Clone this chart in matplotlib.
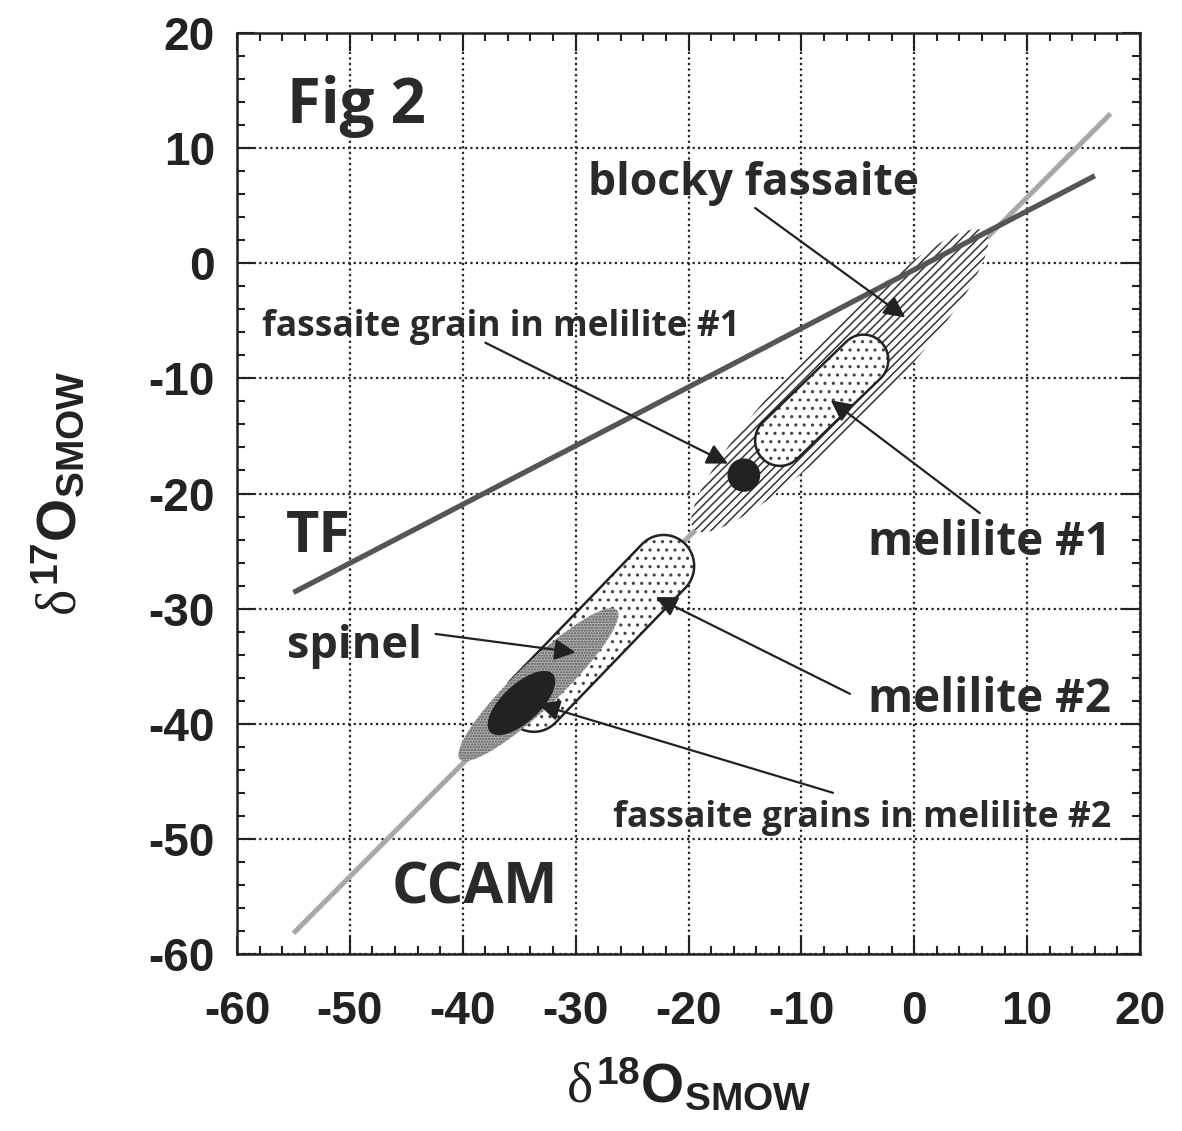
import numpy as np
import matplotlib
matplotlib.use("Agg")
import matplotlib.pyplot as plt
from matplotlib.patches import Ellipse, Polygon, Circle

plt.rcParams['mathtext.fontset'] = 'custom'
plt.rcParams['mathtext.rm'] = 'Liberation Sans:bold'
plt.rcParams['mathtext.bf'] = 'Liberation Sans:bold'
plt.rcParams['mathtext.it'] = 'Liberation Serif'
plt.rcParams['axes.unicode_minus'] = False
plt.rcParams['hatch.linewidth'] = 1.1

# reference lines (d18O, d17O end points)
tf_x = [-55.0, 16.0]
tf_y = [-28.6, 7.6]
ccam_x = [-55.0, 17.4]
ccam_y = [-58.2, 13.0]

# blocky fassaite field: centre, length, width, angle
blocky = dict(xy=(-6.6, -10.2), length=36.5, width=7.4, angle=45)
# melilite pills: two cap centres and radius
mel1_ends = [(-11.9, -15.4), (-4.5, -8.4)]
mel1_r = 2.2
mel2_ends = [(-33.7, -38.0), (-22.2, -26.3)]
mel2_r = 2.7
spinel = dict(xy=(-33.3, -36.6), length=19.0, width=4.0, angle=43)
fass2 = dict(xy=(-34.8, -38.2), length=7.5, width=3.3, angle=42)
fass1_xy = (-15.1, -18.4)
fass1_r = 1.45

# labels: text, x, y, size, alignment
labels = ["Fig 2", "blocky fassaite", "fassaite grain in melilite #1",
          "melilite #1", "melilite #2", "fassaite grains in melilite #2",
          "TF", "spinel", "CCAM"]
label_x = [-55.6, -28.9, -57.8, 17.4, 17.4, 17.4, -55.7, -55.6, -46.3]
label_y = [12.2, 5.9, -6.3, -25.3, -39.0, -49.0, -25.1, -34.3, -55.6]
label_size = [44.5, 32, 25.5, 33, 33, 25.7, 41.5, 32.5, 41.5]
label_ha = ['left', 'left', 'left', 'right', 'right', 'right', 'left', 'left', 'left']

# arrows: tail -> head
arrow_tail = [(-14.1, 4.8), (-38.0, -6.9), (5.8, -21.7), (-5.7, -37.4), (-42.4, -32.2), (-7.2, -46.0)]
arrow_head = [(-0.8, -4.7), (-16.5, -17.4), (-7.4, -11.9), (-22.9, -29.0), (-30.0, -33.8), (-33.3, -38.3)]


def stadium(p0, p1, r, n=40):
    p0 = np.array(p0); p1 = np.array(p1)
    d = p1 - p0
    a = np.arctan2(d[1], d[0])
    t1 = np.linspace(a - np.pi / 2, a + np.pi / 2, n)
    t0 = np.linspace(a + np.pi / 2, a + 3 * np.pi / 2, n)
    pts1 = np.c_[p1[0] + r * np.cos(t1), p1[1] + r * np.sin(t1)]
    pts0 = np.c_[p0[0] + r * np.cos(t0), p0[1] + r * np.sin(t0)]
    return np.vstack([pts1, pts0])


fig = plt.figure(figsize=(11.82, 11.31), dpi=100)
ax = fig.add_axes([0.2005, 0.1565, 0.764, 0.8143])
ax.set_xlim(-60, 20)
ax.set_ylim(-60, 20)

ax.set_xticks(np.arange(-60, 21, 10))
ax.set_yticks(np.arange(-60, 21, 10))
ax.set_xticks(np.arange(-60, 21, 2), minor=True)
ax.set_yticks(np.arange(-60, 21, 2), minor=True)
ax.tick_params(which='both', direction='in', top=True, right=True, width=1.5, color='#222')
ax.tick_params(which='major', length=13)
ax.tick_params(which='minor', length=6)
ax.tick_params(axis='x', which='major', pad=26)
ax.tick_params(axis='y', which='major', pad=16)
for lab in ax.get_xticklabels() + ax.get_yticklabels():
    lab.set_fontfamily('Liberation Sans')
    lab.set_fontweight('bold')
    lab.set_fontsize(33)
    lab.set_color('#222')
for s in ax.spines.values():
    s.set_linewidth(1.8)
    s.set_color('#222')
ax.grid(True, which='major', linestyle=(0, (1, 1.5)), color='#222', linewidth=1.6)
ax.set_axisbelow(True)

ax.plot(ccam_x, ccam_y, color='#a8a8a8', lw=3.6, solid_capstyle='butt', zorder=2)

ax.add_patch(Ellipse(blocky['xy'], blocky['length'], blocky['width'], angle=blocky['angle'],
                     facecolor='white', edgecolor='#333', linewidth=0, hatch='////', zorder=3))

ax.plot(tf_x, tf_y, color='#555555', lw=3.8, solid_capstyle='butt', zorder=4)

for ends, r in [(mel1_ends, mel1_r), (mel2_ends, mel2_r)]:
    ax.add_patch(Polygon(stadium(ends[0], ends[1], r), closed=True, facecolor='white',
                         edgecolor='#444', linewidth=0, hatch='..', zorder=5))
    ax.add_patch(Polygon(stadium(ends[0], ends[1], r), closed=True, facecolor='none',
                         edgecolor='#222', linewidth=1.8, zorder=6))

ax.add_patch(Ellipse(spinel['xy'], spinel['length'], spinel['width'], angle=spinel['angle'],
                     facecolor='#b4b4b4', edgecolor='#555', linewidth=0, hatch='......', zorder=7))
ax.add_patch(Ellipse(fass2['xy'], fass2['length'], fass2['width'], angle=fass2['angle'],
                     facecolor='#222', edgecolor='none', zorder=8))
ax.add_patch(Circle(fass1_xy, fass1_r, facecolor='#222', edgecolor='none', zorder=8))

for tail, head in zip(arrow_tail, arrow_head):
    ax.annotate('', xy=head, xytext=tail,
                arrowprops=dict(arrowstyle='-|>', color='#222', lw=1.6,
                                mutation_scale=32, shrinkA=0, shrinkB=0),
                zorder=9)

for t, x, y, s, ha in zip(labels, label_x, label_y, label_size, label_ha):
    ax.text(x, y, t, fontsize=s, ha=ha, va='baseline', color='#2a2a2a',
            fontfamily='Open Sans', fontweight='bold', zorder=10)

ax.set_xlabel(r'$\delta^{\mathbf{18}}\mathbf{O}_{\mathbf{SMOW}}$', fontsize=40, color='#222')
ax.set_ylabel(r'$\delta^{\mathbf{17}}\mathbf{O}_{\mathbf{SMOW}}$', fontsize=40, color='#222')
ax.xaxis.set_label_coords(0.5, -0.112)
ax.yaxis.set_label_coords(-0.165, 0.5)

plt.savefig('out.png', dpi=100)
